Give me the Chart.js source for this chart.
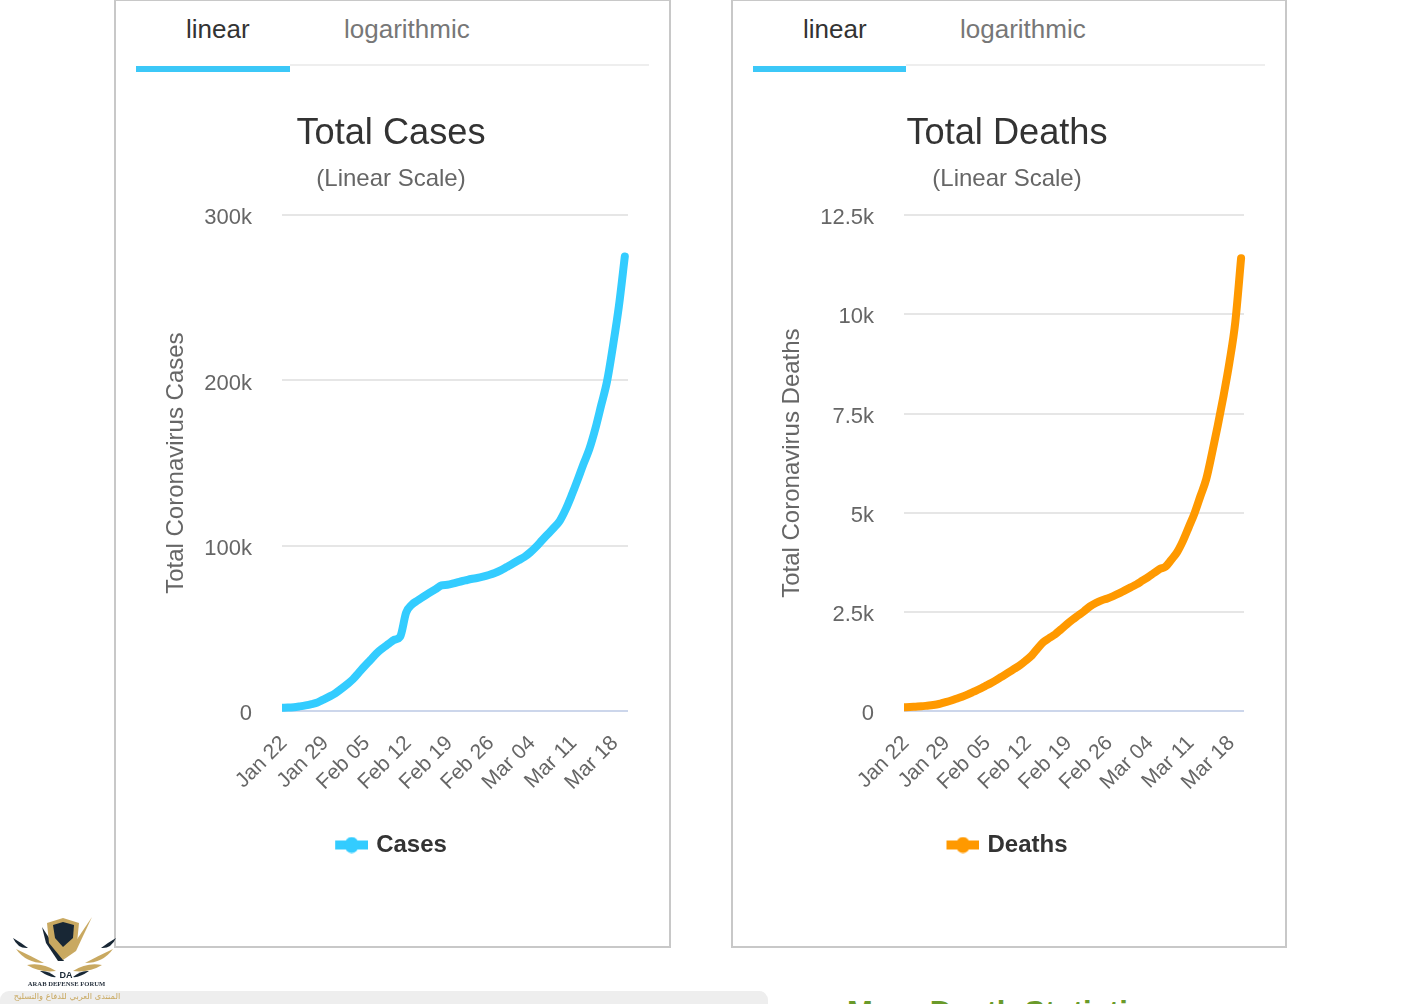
<!DOCTYPE html>
<html><head><meta charset="utf-8">
<script src="https://cdn.jsdelivr.net/npm/chart.js@4"></script>
<style>
html,body{margin:0;padding:0;background:#fff;width:1415px;height:1004px;overflow:hidden;font-family:"Liberation Sans",Arial,sans-serif}
.abs{position:absolute}
.card{position:absolute;top:-1px;height:945px;border:2px solid #c8c8c8;box-sizing:content-box}
.tab{position:absolute;font-size:26px;line-height:32px;top:13px;white-space:nowrap}
canvas{position:absolute;top:0}
</style></head><body>
<div class="card" style="left:114px;width:553px"></div>
<div class="card" style="left:731px;width:552px"></div>
<div class="abs" style="left:290px;top:64px;width:359px;height:2px;background:#eee"></div>
<div class="abs" style="left:136px;top:66px;width:154px;height:6px;background:#3cc8f8"></div>
<div class="abs" style="left:906px;top:64px;width:359px;height:2px;background:#eee"></div>
<div class="abs" style="left:753px;top:66px;width:153px;height:6px;background:#3cc8f8"></div>
<div class="tab" style="left:186px;color:#333">linear</div>
<div class="tab" style="left:344px;color:#777">logarithmic</div>
<div class="tab" style="left:803px;color:#333">linear</div>
<div class="tab" style="left:960px;color:#777">logarithmic</div>
<canvas id="c1" width="550" height="945" style="left:111px;width:550px;height:945px"></canvas>
<canvas id="c2" width="550" height="945" style="left:727px;width:550px;height:945px"></canvas>
<div class="abs" style="left:0;top:991px;width:768px;height:30px;background:#eee;border-radius:9px"></div>
<div class="abs" style="left:847px;top:995px;width:291px;overflow:hidden;font-size:31px;line-height:36px;font-weight:bold;color:#6a9a2a;white-space:nowrap">More Death Statistics</div>
<svg class="abs" style="left:0;top:905px" width="130" height="99" viewBox="0 0 130 99">
<path d="M42 22 L64 56 L58 56 L46 38Z" fill="#182735"/>
<path d="M47 18 L63 13 L79 18 L77 38 L63 55 L49 38Z" fill="#c9a961"/>
<path d="M53 20 L63 17 L74 20 L73 33 L63 42 L55 33Z" fill="#182735"/>
<path d="M63 55 L92 12 L76 46Z" fill="#c9a961"/>
<path d="M13 33 Q18 44 28 43 Q20 37 13 33Z" fill="#182735"/>
<path d="M16 44 Q26 58 44 58 Q29 50 16 44Z" fill="#c9a961"/>
<path d="M27 60 Q40 68 56 66 Q42 57 27 60Z" fill="#c9a961"/>
<path d="M40 66 Q50 73 56 72 Q48 65 40 66Z" fill="#182735"/>
<path d="M116 33 Q111 44 101 43 Q109 37 116 33Z" fill="#182735"/>
<path d="M113 44 Q103 58 85 58 Q100 50 113 44Z" fill="#c9a961"/>
<path d="M102 60 Q89 68 73 66 Q87 57 102 60Z" fill="#c9a961"/>
<path d="M89 66 Q79 73 73 72 Q81 65 89 66Z" fill="#182735"/>
<text x="66" y="73" text-anchor="middle" font-family="Liberation Sans" font-weight="bold" font-size="9" fill="#182735">DA</text>
<text x="66.5" y="81" text-anchor="middle" font-family="Liberation Serif" font-weight="bold" font-size="6.6" fill="#2a3440">ARAB DEFENSE FORUM</text>
<text x="67" y="94" text-anchor="middle" font-family="DejaVu Sans" font-size="8.3" fill="#c9a961">المنتدى العربي للدفاع والتسليح</text>
</svg>
<script>
const xTickLabels = ['Jan 22','Jan 29','Feb 05','Feb 12','Feb 19','Feb 26','Mar 04','Mar 11','Mar 18'];
const casesValues = [2000,2050,2300,2800,3400,4200,5200,6900,8700,10700,13300,16100,19200,23200,27200,31000,34900,37900,40500,43100,45000,59500,64500,67000,69400,71600,73800,76000,76400,77200,78200,79000,79900,80500,81300,82300,83500,85100,87100,89100,91200,93200,96000,99400,103300,107100,110900,115100,122000,130500,139700,149400,158500,170600,185000,199600,221000,245000,275000];
const deathsValues = [92,100,109,118,134,151,176,218,260,311,361,420,487,554,630,706,790,882,974,1067,1159,1277,1403,1580,1739,1840,1932,2058,2184,2302,2411,2520,2638,2722,2789,2839,2898,2965,3041,3116,3192,3285,3377,3478,3578,3640,3814,4007,4290,4637,4990,5418,5847,6502,7208,7964,8795,9803,11416];
const casesTicks = [0,100000,200000,300000];
const deathsTicks = [0,2500,5000,7500,10000,12500];
const fam = '"Liberation Sans",Arial,sans-serif';

function swatch(color){
  const c=document.createElement('canvas');c.width=37;c.height=17;
  const g=c.getContext('2d');g.fillStyle=color;
  g.fillRect(4,4,33,9);
  g.beginPath();g.ellipse(20.5,8.5,7,8,0,0,Math.PI*2);g.fill();
  return c;
}
function tickText(v){return v===0?'0':(v/1000)+'k';}
function make(id,cfg){
  return new Chart(document.getElementById(id),{
    type:'line',
    data:{datasets:[{
      label:cfg.series,
      data:cfg.values.map((y,i)=>({x:i,y})),
      borderColor:cfg.color,backgroundColor:cfg.color,
      borderWidth:8,pointRadius:0,cubicInterpolationMode:'monotone',
      borderCapStyle:'round',borderJoinStyle:'round',
      clip:{left:0,top:false,right:false,bottom:false},
      pointStyle:swatch(cfg.color)
    }]},
    options:{
      responsive:false,animation:false,
      layout:{padding:{top:90,left:43,right:33,bottom:78}},
      plugins:{
        tooltip:{enabled:false},
        title:{display:true,text:cfg.title,color:'#333',align:'center',
          font:{family:fam,size:36.2,weight:'normal',lineHeight:1.2},padding:{top:22,bottom:10}},
        subtitle:{display:true,text:'(Linear Scale)',color:'#666',
          font:{family:fam,size:24,weight:'normal',lineHeight:1.2},padding:{top:0,bottom:21}},
        legend:{display:true,position:'bottom',onClick:null,
          labels:{usePointStyle:true,pointStyleWidth:29,color:'#333',
            font:{family:fam,size:24,weight:'bold',lineHeight:1.2},padding:10}}
      },
      scales:{
        x:{type:'linear',min:0,max:cfg.xMax,
          grid:{display:false},border:{display:false},
          afterFit:s=>{s.height=112;},
          ticks:{stepSize:7,includeBounds:false,autoSkip:false,maxRotation:45,minRotation:45,
            padding:12,labelOffset:2,color:'#666',font:{family:fam,size:21},
            callback:v=>xTickLabels[v/7]}},
        y:{min:0,max:cfg.yMax,
          border:{display:false},
          afterFit:s=>{s.width=cfg.yWidth;},
          afterBuildTicks:s=>{s.ticks=cfg.ticks.map(value=>({value}));},
          grid:{drawTicks:false,lineWidth:2,color:c=>c.tick&&c.tick.value===0?'#ccd6eb':'#e6e6e6'},
          title:{display:true,text:cfg.yTitle,color:'#666',padding:{top:8,bottom:4},font:{family:fam,size:24,weight:'normal',lineHeight:1.2}},
          ticks:{padding:30,labelOffset:3,color:'#666',font:{family:fam,size:22},callback:tickText}}
      }
    }
  });
}
make('c1',{series:'Cases',values:casesValues,color:'#33ccff',title:'Total Cases',yTitle:'Total Coronavirus Cases',yMax:300000,ticks:casesTicks,xMax:58.54,yWidth:128});
make('c2',{series:'Deaths',values:deathsValues,color:'#ff9900',title:'Total Deaths',yTitle:'Total Coronavirus Deaths',yMax:12500,ticks:deathsTicks,xMax:58.5,yWidth:134});
</script>
</body></html>
